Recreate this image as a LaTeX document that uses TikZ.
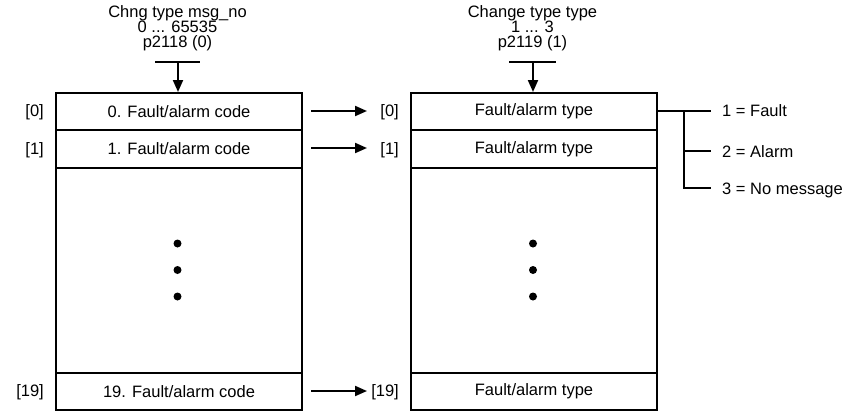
\documentclass[tikz,border=0pt]{standalone}
\usepackage{fontspec}
\setmainfont{Liberation Sans}
\usetikzlibrary{arrows.meta}
\begin{document}
\begin{tikzpicture}[x=1pt,y=-1pt,
  font=\fontsize{16.5}{15}\selectfont,
  cell/.style={draw,line width=2pt,minimum width=246pt,inner sep=0pt,anchor=north},
  lbl/.style={inner sep=0pt,anchor=base east},
  hdr/.style={align=center,inner sep=0pt},
  arr/.style={line width=2pt,-{Triangle[length=12pt,width=10pt]}},
  ln/.style={line width=2pt},
  dot/.style={circle,fill=black,inner sep=0pt,minimum size=8pt}]
\useasboundingbox (0,0) rectangle (865,413);
% left column
\node[cell,minimum height=37pt] (l0) at (179,92) {0. Fault/alarm code};
\node[cell,minimum height=38pt] (l1) at (179,129) {1. Fault/alarm code};
\node[cell,minimum height=205pt] (lm) at (179,167) {};
\node[cell,minimum height=37pt] (l19) at (179,372) {19. Fault/alarm code};
% right column
\node[cell,minimum height=37pt] (r0) at (534,92) {Fault/alarm type};
\node[cell,minimum height=38pt] (r1) at (534,129) {Fault/alarm type};
\node[cell,minimum height=205pt] (rm) at (534,167) {};
\node[cell,minimum height=37pt] (r19) at (534,372) {Fault/alarm type};
% index labels
\node[lbl] (il0) at (44,116.5) {[0]};
\node[lbl] (il1) at (44,154) {[1]};
\node[lbl] (il19) at (44,396.5) {[19]};
\node[lbl] (ir0) at (399,116.5) {[0]};
\node[lbl] (ir1) at (399,154) {[1]};
\node[lbl] (ir19) at (399,396.5) {[19]};
% arrows between
\coordinate (a0) at (311,111);
\coordinate (a1) at (311,148);
\coordinate (a19) at (311,391);
\coordinate (e0) at (367,111);
\coordinate (e1) at (367,148);
\coordinate (e19) at (367,391);
\draw[arr] (a0) -- (e0);
\draw[arr] (a1) -- (e1);
\draw[arr] (a19) -- (e19);
% dots
\foreach \y/\n in {243.5/1,270/2,296.5/3}{
  \node[dot] (ld\n) at (177.5,\y) {};
  \node[dot] (rd\n) at (533,\y) {};
}
% headers
\node[hdr] (hl) at (177.5,28) {Chng type msg\_no\\0 ... 65535\\p2118 (0)};
\node[hdr] (hr) at (532.5,28) {Change type type\\1 ... 3\\p2119 (1)};
\coordinate (bl1) at (155,62); \coordinate (bl2) at (200,62); \coordinate (blc) at (178,62);
\coordinate (br1) at (509,62); \coordinate (br2) at (556,62); \coordinate (brc) at (533,62);
\draw[ln] (bl1) -- (bl2);
\draw[ln] (br1) -- (br2);
\draw[arr] (blc) -- (blc |- l0.north);
\draw[arr] (brc) -- (brc |- r0.north);
% branches
\node[anchor=base west,inner sep=0pt] (t1) at (722,116.5) {1 = Fault};
\node[anchor=base west,inner sep=0pt] (t2) at (722,157) {2 = Alarm};
\node[anchor=base west,inner sep=0pt] (t3) at (722,194.5) {3 = No message};
\coordinate (bj) at (684,111);
\coordinate (s1) at (711,111);
\coordinate (s2) at (711,151);
\coordinate (s3) at (711,188);
\draw[ln] (r0.east |- s1) -- (s1);
\draw[ln] (bj) -- (bj |- s3) -- (s3);
\draw[ln] (bj |- s2) -- (s2);
\end{tikzpicture}
\end{document}
